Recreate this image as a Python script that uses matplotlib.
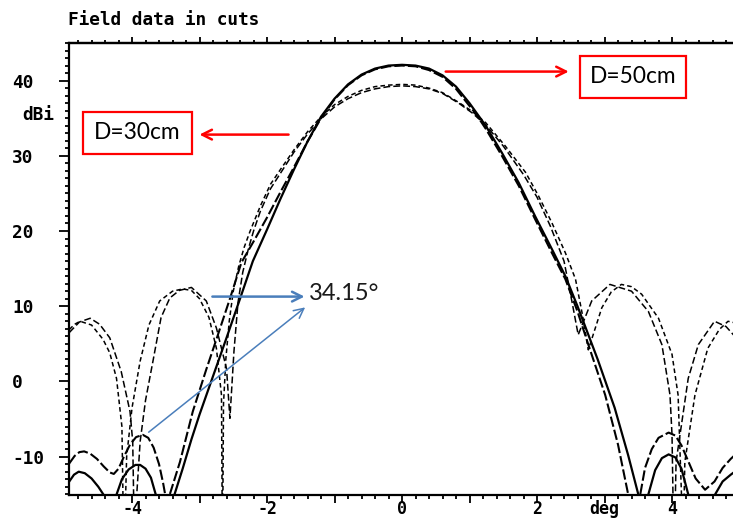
import matplotlib
matplotlib.use("Agg")
import matplotlib.pyplot as plt
from matplotlib.ticker import MultipleLocator, FixedLocator
from matplotlib.patches import Rectangle

# ---- antenna cuts (angle in deg, gain in dBi) ----
# D = 50 cm, cut A (long dashes)
x_50a = [-4.93, -4.85, -4.78, -4.71, -4.62, -4.52, -4.42, -4.33, -4.27, -4.2, -4.12, -4.03,
         -3.94, -3.84, -3.76, -3.68, -3.6, -3.54, -3.5, -3.47, -3.44, -3.29, -3.1, -2.9,
         -2.75, -2.55, -2.38, -2.2, -2.0, -1.8, -1.6, -1.4, -1.2, -1.0, -0.8, -0.6, -0.4,
         -0.2, 0.0, 0.2, 0.4, 0.6, 0.8, 0.94, 1.1, 1.24, 1.48, 1.73, 1.97, 2.22, 2.42, 2.6,
         2.76, 3.01, 3.2, 3.35, 3.44, 3.53, 3.6, 3.7, 3.8, 3.95, 4.05, 4.14, 4.24, 4.35,
         4.49, 4.63, 4.75, 4.87, 4.93]
y_50a = [-10.9, -9.9, -9.4, -9.3, -9.6, -10.3, -11.3, -12.1, -12.3, -11.6, -10.0, -8.4,
         -7.4, -7.1, -7.5, -8.8, -11.0, -13.5, -15.5, -24.0, -15.0, -10.7, -4.0, 1.6,
         5.6, 11.0, 15.8, 18.6, 21.8, 25.2, 28.5, 31.9, 35.0, 37.5, 39.4, 40.7, 41.5,
         41.9, 42.0, 41.9, 41.4, 40.5, 38.9, 37.3, 35.5, 33.6, 30.0, 26.0, 21.6, 17.1, 13.6, 9.3,
         4.9, -1.8, -8.4, -15.0, -24.0, -15.0, -11.5, -9.0, -7.5, -6.8, -7.2, -8.5, -10.6, -12.9,
         -14.4, -13.3, -11.5, -10.3, -9.8]

# D = 50 cm, cut B (solid)
x_50b = [-4.93, -4.86, -4.79, -4.7, -4.6, -4.5, -4.39, -4.32, -4.24, -4.15, -4.05, -3.95,
         -3.88, -3.8, -3.72, -3.65, -3.51, -3.37, -3.25, -3.12, -3.0, -2.8, -2.6, -2.4,
         -2.21, -2.0, -1.8, -1.6, -1.4, -1.2, -1.0, -0.8, -0.6, -0.4, -0.2, 0.0, 0.2, 0.4,
         0.6, 0.8, 1.0, 1.24, 1.48, 1.73, 1.97, 2.22, 2.42, 2.6, 2.9, 3.15, 3.35, 3.5, 3.57,
         3.65, 3.75, 3.85, 3.95, 4.05, 4.14, 4.24, 4.42, 4.64, 4.75, 4.87, 4.93]
y_50b = [-13.3, -12.4, -12.0, -12.2, -12.9, -14.0, -15.5, -24.0, -15.3, -13.0, -11.7, -11.1,
         -11.1, -11.6, -12.8, -15.0, -24.0, -15.0, -11.6, -7.7, -4.4, 0.7, 5.8, 11.0,
         16.0, 20.2, 24.3, 28.2, 31.9, 35.2, 37.6, 39.5, 40.8, 41.6, 42.0, 42.1, 42.0, 41.6,
         40.7, 39.2, 37.0, 34.0, 30.4, 26.4, 22.0, 17.6, 14.0, 10.0, 2.9, -3.5, -9.8, -15.0, -24.0,
         -15.0, -11.8, -10.2, -9.7, -10.1, -11.6, -15.0, -24.0, -15.0, -13.3, -12.4, -12.0]

# D = 30 cm, cut A (short dashes)
x_30a = [-4.93, -4.85, -4.77, -4.6, -4.43, -4.33, -4.23, -4.15, -4.12, -4.08, -4.0, -3.88,
         -3.75, -3.59, -3.4, -3.25, -3.12, -3.0, -2.86, -2.75, -2.675, -2.66, -2.645, -2.61,
         -2.56, -2.5, -2.42, -2.34, -2.25, -2.1, -1.95, -1.8, -1.6, -1.4, -1.2, -1.0, -0.8,
         -0.6, -0.4, -0.2, 0.0, 0.2, 0.4, 0.6, 0.84, 1.04, 1.24, 1.53, 1.83, 2.02, 2.22, 2.42,
         2.57, 2.67, 2.76, 2.96, 3.1, 3.25, 3.4, 3.55, 3.8, 4.0, 4.09, 4.14, 4.16, 4.19, 4.34,
         4.53, 4.7, 4.83, 4.93]
y_30a = [6.9, 7.6, 8.0, 7.5, 5.6, 3.8, 0.4, -6.0, -24.0, -10.0, -3.5, 2.7,
         7.5, 10.7, 12.0, 12.3, 12.1, 11.0, 8.5, 4.4, -1.8, -24.0, -3.0, 3.0,
         8.0, 12.0, 15.3, 17.8, 20.0, 23.3, 26.2, 28.2, 30.8, 33.2, 35.2, 36.8, 37.9,
         38.7, 39.2, 39.4, 39.5, 39.4, 39.0, 38.4, 37.1, 35.9, 34.4, 31.3, 27.8, 24.7, 21.1, 17.1,
         13.6, 9.0, 4.2, 9.8, 11.9, 12.9, 12.6, 11.6, 8.4, 3.6, -1.8, -15.0, -24.0, -10.7, -1.8,
         4.4, 6.9, 8.0, 7.8]

# D = 30 cm, cut B (dashes)
x_30b = [-4.93, -4.78, -4.62, -4.48, -4.33, -4.16, -4.03, -3.99, -3.96, -3.93, -3.88, -3.8,
         -3.69, -3.57, -3.44, -3.3, -3.12, -2.9, -2.75, -2.6, -2.55, -2.49, -2.43, -2.36,
         -2.28, -2.2, -2.1, -1.95, -1.8, -1.6, -1.4, -1.2, -1.0, -0.8, -0.6, -0.4, -0.2, 0.0,
         0.2, 0.4, 0.6, 0.84, 1.04, 1.24, 1.5, 1.8, 2.0, 2.2, 2.4, 2.52, 2.61, 2.81, 3.08,
         3.4, 3.65, 3.85, 3.97, 4.0, 4.03, 4.06, 4.24, 4.39, 4.63, 4.8, 4.93]
y_30b = [6.5, 7.9, 8.4, 7.6, 5.8, 1.3, -4.0, -8.0, -24.0, -15.0, -8.0, -2.5,
         2.7, 8.5, 11.1, 12.1, 12.5, 10.7, 7.1, 1.7, -4.9, 4.0, 10.5, 14.5,
         17.5, 20.0, 22.6, 25.6, 27.7, 30.5, 32.9, 34.9, 36.5, 37.6, 38.4, 38.9, 39.2, 39.3,
         39.2, 38.9, 38.3, 37.0, 35.7, 34.1, 31.3, 27.5, 24.5, 20.6, 16.0, 10.5, 6.2, 10.7, 12.9,
         12.0, 9.3, 4.9, -1.8, -7.1, -24.0, -10.7, 0.4, 4.9, 8.0, 7.3, 6.0]

# axis ticks
x_major = [-4, -3, -2, -1, 0, 1, 2, 3, 4]
x_labels = ["-4", "", "-2", "", "0", "", "2", "deg", "4"]
y_major = [-10, 0, 10, 20, 30, 40]
y_labels = ["-10", "0", "10", "20", "30", "40"]

MONO = dict(family="DejaVu Sans Mono", weight="bold", size=12.8)
RED = "#ff0000"
BLUE = "#4a7ebb"

W, H = 733, 520
fig = plt.figure(figsize=(W / 100, H / 100), dpi=100)
ax = fig.add_axes([69 / W, 25 / H, (736 - 69) / W, (495 - 43) / H])

ax.plot(x_50b, y_50b, color="black", lw=1.6, ls="-")
ax.plot(x_50a, y_50a, color="black", lw=1.5, ls=(0, (5, 1.5)))
ax.plot(x_30a, y_30a, color="black", lw=1.1, ls=(0, (3, 2)))
ax.plot(x_30b, y_30b, color="black", lw=1.1, ls=(0, (4.5, 2)))

ax.set_xlim(-4.934, 4.948)
ax.set_ylim(-15.1, 45.0)

for side in ("left", "top", "bottom"):
    ax.spines[side].set_linewidth(1.6)
ax.spines["right"].set_visible(False)

# bottom axis: labelled ticks
ax.xaxis.set_major_locator(FixedLocator(x_major))
ax.set_xticklabels(x_labels)
ax.xaxis.set_minor_locator(MultipleLocator(0.2))
ax.tick_params(axis="x", which="both", top=False, bottom=True, direction="out",
               width=1.3, labelsize=12, pad=-2.4)
ax.tick_params(axis="x", which="major", length=6)
ax.tick_params(axis="x", which="minor", length=3)

# top axis: shorter ticks, no labels
top = ax.secondary_xaxis("top")
top.xaxis.set_major_locator(FixedLocator(x_major))
top.xaxis.set_minor_locator(MultipleLocator(0.2))
top.tick_params(axis="x", which="both", direction="out", width=1.3, labeltop=False)
top.tick_params(axis="x", which="major", length=4)
top.tick_params(axis="x", which="minor", length=2)
top.spines["top"].set_linewidth(1.6)

# left axis
ax.yaxis.set_major_locator(FixedLocator(y_major))
ax.set_yticklabels(y_labels)
ax.yaxis.set_minor_locator(MultipleLocator(1))
ax.tick_params(axis="y", which="both", left=True, right=False, direction="out", width=1.3)
ax.tick_params(axis="y", which="major", length=7.5, labelsize=12.8, pad=33.5)
ax.tick_params(axis="y", which="minor", length=3)

for lab in ax.get_xticklabels() + ax.get_yticklabels():
    lab.set_fontfamily("DejaVu Sans Mono")
    lab.set_fontweight("bold")
for lab in ax.get_yticklabels():
    lab.set_horizontalalignment("left")

fig.text(68 / W, 1 - 20 / H, "Field data in cuts", va="center", ha="left", **MONO)
fig.text(22 / W, 1 - 115 / H, "dBi", va="center", ha="left", **MONO)

# labelled boxes with red arrows
def boxed_label(x0, x1, y0, y1, text):
    ax.add_patch(Rectangle((x0, y0), x1 - x0, y1 - y0, fill=True, fc="white",
                           ec=RED, lw=1.6, zorder=5))
    ax.text((x0 + x1) / 2, (y0 + y1) / 2, text, ha="center", va="center",
            family="Lato", size=16.4, color="black", zorder=6)

boxed_label(2.63, 4.21, 37.74, 43.32, "D=50cm")
boxed_label(-4.727, -3.117, 30.29, 35.88, "D=30cm")

ax.annotate("", xy=(2.511, 41.2), xytext=(0.606, 41.2),
            arrowprops=dict(arrowstyle="->,head_length=0.7,head_width=0.35", color=RED, lw=1.8))
ax.annotate("", xy=(-3.043, 32.82), xytext=(-1.64, 32.82),
            arrowprops=dict(arrowstyle="->,head_length=0.7,head_width=0.35", color=RED, lw=1.8))

# beam angle annotation
ax.text(-1.374, 11.68, "34.15°", ha="left", va="center", family="Lato", size=17,
        color="#1a1a1a")
ax.annotate("", xy=(-1.403, 11.28), xytext=(-2.851, 11.28),
            arrowprops=dict(arrowstyle="->,head_length=0.7,head_width=0.35", color=BLUE, lw=1.8))
ax.annotate("", xy=(-1.403, 10.08), xytext=(-3.786, -6.98),
            arrowprops=dict(arrowstyle="->,head_length=0.7,head_width=0.35", color=BLUE, lw=1.1))

fig.savefig("out.png", dpi=100)
